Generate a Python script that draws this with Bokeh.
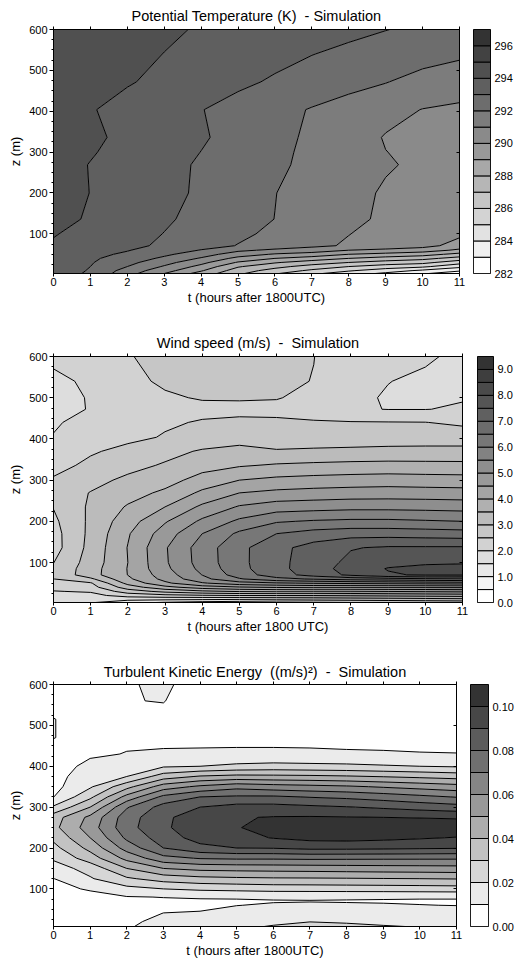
import numpy as np
from bokeh.plotting import figure
from bokeh.layouts import column, row
from bokeh.models import FixedTicker, LinearAxis, PrintfTickFormatter, Range1d
from bokeh.embed import file_html
from bokeh.resources import INLINE

HOURS = list(range(12))

# ---------------- Potential temperature (K) : rows = heights, columns = hours ----------------
Z_THETA = [3, 10, 20, 30, 40, 50, 60, 71, 100, 136, 200, 269, 300, 336, 404, 472, 540, 600]
THETA = [
    [293.5, 292.85, 291.4, 290.0, 288.6, 287.2, 286.1, 285.2, 284.5, 283.8, 283.1, 282.5],
    [293.55, 292.92, 291.6, 290.4, 289.1, 287.5, 286.6, 285.8, 285.1, 284.5, 283.8, 283.1],
    [293.6, 293.0, 292.0, 290.9, 289.7, 288.1, 287.3, 286.6, 286.0, 285.5, 285.2, 284.3],
    [293.65, 293.08, 292.3, 291.35, 290.3, 288.9, 288.1, 287.5, 287.0, 286.6, 286.3, 285.4],
    [293.7, 293.15, 292.6, 291.8, 290.9, 289.7, 289.0, 288.55, 288.0, 287.6, 287.3, 286.6],
    [293.75, 293.25, 292.85, 292.2, 291.45, 290.5, 289.9, 289.6, 289.0, 288.7, 288.4, 287.7],
    [293.8, 293.4, 293.05, 292.55, 291.95, 291.2, 290.8, 290.5, 290.0, 289.8, 289.5, 288.8],
    [293.9, 293.56, 293.22, 292.85, 292.4, 291.96, 291.6, 291.23, 290.88, 290.56, 290.35, 289.6],
    [294.05, 293.72, 293.35, 292.98, 292.6, 292.19, 291.8, 291.41, 291.02, 290.7, 290.45, 290.2],
    [294.2, 293.93, 293.53, 293.12, 292.74, 292.36, 291.99, 291.6, 291.21, 290.85, 290.6, 290.4],
    [294.3, 293.99, 293.62, 293.25, 292.87, 292.45, 292.02, 291.62, 291.27, 290.9, 290.75, 290.6],
    [294.35, 293.97, 293.61, 293.26, 292.9, 292.53, 292.15, 291.8, 291.43, 291.08, 290.85, 290.7],
    [294.4, 294.07, 293.71, 293.35, 292.99, 292.6, 292.2, 291.81, 291.41, 291.01, 290.85, 290.75],
    [294.4, 294.14, 293.83, 293.46, 293.1, 292.69, 292.27, 291.84, 291.38, 290.95, 290.85, 290.8],
    [294.45, 294.06, 293.71, 293.37, 293.03, 292.67, 292.3, 291.94, 291.6, 291.26, 290.98, 290.9],
    [294.5, 294.28, 294.07, 293.79, 293.49, 293.18, 292.89, 292.61, 292.32, 292.04, 291.65, 291.3],
    [294.55, 294.36, 294.18, 293.99, 293.75, 293.5, 293.26, 293.02, 292.81, 292.61, 292.4, 292.2],
    [294.6, 294.44, 294.27, 294.11, 293.94, 293.75, 293.57, 293.39, 293.21, 293.02, 292.84, 292.66],
]
THETA_LEVELS = [282, 283, 284, 285, 286, 287, 288, 289, 290, 291, 292, 293, 294, 295, 296, 297]
THETA_TICKS = [282, 284, 286, 288, 290, 292, 294, 296]

# ---------------- Wind speed (m/s) : one list per hour, values at Z_WIND ----------------
Z_WIND = [3, 10, 20, 30, 40, 50, 60, 70, 85, 100, 136, 170, 200, 235, 269, 300, 336, 370, 404, 440, 472, 500, 540, 600]
WIND_BY_HOUR = [
    [1.8, 1.85, 1.92, 1.98, 2.15, 2.33, 2.49, 2.58, 2.56, 2.49, 2.3, 2.32, 2.4, 2.52, 2.7, 2.55, 2.35, 2.2, 2.02, 1.95, 1.75, 1.75, 1.8, 2.2],
    [1.55, 1.7, 1.85, 2.05, 2.3, 2.45, 2.9, 3.3, 3.28, 3.22, 3.16, 3.12, 3.1, 3.08, 3.02, 2.85, 2.6, 2.45, 2.25, 2.15, 2.04, 2.05, 2.15, 2.25],
    [1.15, 1.6, 2.2, 2.75, 3.25, 3.65, 3.9, 4.01, 4.02, 4.0, 4.02, 3.95, 3.78, 3.55, 3.3, 3.1, 2.85, 2.62, 2.4, 2.3, 2.25, 2.3, 2.4, 2.48],
    [0.95, 1.55, 2.35, 3.15, 3.85, 4.4, 4.65, 4.75, 4.88, 4.93, 4.95, 4.75, 4.45, 4.0, 3.6, 3.3, 3.05, 2.85, 2.53, 2.45, 2.35, 2.45, 2.56, 2.6],
    [0.8, 1.5, 2.45, 3.4, 4.25, 4.95, 5.35, 5.51, 5.65, 5.72, 5.74, 5.5, 5.1, 4.6, 4.1, 3.7, 3.3, 3.05, 2.7, 2.53, 2.4, 2.53, 2.62, 2.65],
    [0.7, 1.45, 2.5, 3.55, 4.45, 5.3, 5.95, 6.25, 6.35, 6.37, 6.37, 6.1, 5.6, 5.05, 4.5, 4.0, 3.45, 3.15, 2.8, 2.56, 2.42, 2.53, 2.62, 2.65],
    [0.6, 1.4, 2.5, 3.6, 4.55, 5.45, 6.35, 6.77, 6.85, 6.86, 6.85, 6.5, 5.95, 5.25, 4.62, 4.12, 3.55, 3.05, 2.68, 2.56, 2.4, 2.52, 2.57, 2.6],
    [0.55, 1.35, 2.5, 3.6, 4.6, 5.55, 6.55, 7.2, 7.28, 7.25, 7.2, 6.7, 6.05, 5.3, 4.68, 4.18, 3.6, 3.08, 2.72, 2.54, 2.3, 2.4, 2.49, 2.505],
    [0.5, 1.3, 2.45, 3.6, 4.6, 5.6, 6.7, 7.6, 7.7, 7.62, 7.47, 6.8, 6.1, 5.35, 4.72, 4.22, 3.64, 3.1, 2.75, 2.53, 2.05, 2.1, 2.22, 2.3],
    [0.45, 1.25, 2.4, 3.55, 4.6, 5.65, 6.8, 7.95, 8.03, 7.85, 7.56, 6.8, 6.1, 5.35, 4.74, 4.25, 3.66, 3.12, 2.78, 2.52, 1.99, 1.96, 2.01, 2.15],
    [0.4, 1.2, 2.35, 3.5, 4.6, 5.7, 6.9, 8.05, 8.15, 7.92, 7.56, 6.76, 6.05, 5.33, 4.72, 4.22, 3.65, 3.12, 2.8, 2.51, 1.99, 1.95, 1.92, 2.06],
    [0.35, 1.15, 2.3, 3.45, 4.6, 5.75, 6.95, 8.05, 8.18, 7.95, 7.56, 6.72, 6.0, 5.3, 4.7, 4.2, 3.64, 3.12, 2.8, 2.4, 2.05, 1.97, 1.85, 1.9],
]
WIND_LEVELS = [0.0, 0.5, 1.0, 1.5, 2.0, 2.5, 3.0, 3.5, 4.0, 4.5, 5.0, 5.5, 6.0, 6.5, 7.0, 7.5, 8.0, 8.5, 9.0, 9.5]
WIND_TICKS = [0, 1, 2, 3, 4, 5, 6, 7, 8, 9]

# ---------------- Turbulent kinetic energy ((m/s)^2) : one list per hour, values at Z_TKE ----------------
Z_TKE = [8, 20, 40, 60, 70, 80, 100, 125, 150, 175, 200, 225, 250, 275, 300, 325, 350, 375, 400, 430, 470, 515, 560, 600]
TKE_BY_HOUR = [
    [.004, .0045, .0052, .006, .0065, .0072, .0083, .0098, .0155, .0214, .027, .0322, .0372, .0355, .0214, .0098, .007, .0065, .006, .007, .0102, .0102, .007, .005],
    [.004, .0045, .0052, .006, .0068, .0081, .0106, .019, .0237, .035, .043, .05, .055, .0525, .04, .0277, .0187, .0155, .0123, .0087, .007, .007, .0075, .008],
    [.0092, .0085, .0075, .0073, .0079, .0095, .0169, .0285, .04, .053, .064, .072, .0765, .0755, .069, .0535, .0367, .02, .0155, .0103, .0085, .0085, .0099, .0097],
    [.013, .012, .0101, .0085, .0088, .0102, .02, .0343, .05, .0667, .08, .085, .088, .0875, .084, .0725, .055, .035, .0188, .0105, .009, .0092, .0101, .0106],
    [.0135, .0125, .0103, .0092, .0093, .0105, .0219, .0371, .0529, .0707, .0871, .094, .0972, .0965, .09, .08, .062, .041, .02, .0107, .0088, .0088, .0085, .0085],
    [.0185, .0145, .0118, .0099, .0094, .0106, .0229, .0382, .0536, .0716, .09, .0965, .0993, .0993, .0935, .0815, .0668, .043, .0223, .0108, .0088, .0085, .0075, .006],
    [.0205, .0185, .0128, .0105, .0097, .0108, .024, .0388, .0541, .0715, .0905, .1005, .1045, .1005, .0935, .0815, .0645, .0425, .0235, .0108, .0088, .0085, .0075, .006],
    [.0215, .0199, .0135, .0108, .0098, .0108, .0242, .039, .0545, .072, .0925, .103, .1065, .1008, .092, .0795, .063, .042, .0228, .0107, .0088, .0085, .0075, .006],
    [.021, .0195, .0132, .0106, .0097, .0107, .0245, .0393, .055, .0718, .0925, .1035, .107, .1005, .0905, .078, .0615, .041, .0222, .0105, .0087, .0083, .0073, .006],
    [.0203, .019, .013, .0104, .0096, .0106, .0248, .0397, .0555, .0716, .092, .1025, .107, .1, .0885, .0755, .059, .0395, .021, .0104, .0086, .0082, .0072, .006],
    [.0198, .0182, .0125, .0101, .0095, .0105, .0252, .04, .0558, .0715, .0913, .101, .107, .0995, .0862, .0725, .0565, .0378, .02, .0102, .0085, .0081, .0071, .006],
    [.0185, .017, .012, .0099, .0094, .0106, .0256, .0405, .0562, .0714, .0907, .0995, .107, .0988, .084, .0695, .054, .036, .019, .0101, .0085, .008, .007, .006],
]
TKE_LEVELS = [0.0, 0.01, 0.02, 0.03, 0.04, 0.05, 0.06, 0.07, 0.08, 0.09, 0.10, 0.11]
TKE_TICKS = [0.0, 0.02, 0.04, 0.06, 0.08, 0.10]

FONT = "Liberation Sans"
HEIGHT_TICKS = [100, 200, 300, 400, 500, 600]
HEIGHT_MINOR = list(range(25, 600, 25))
NB = "\u00a0"


def gray_ramp(n):
    out = []
    for i in range(n):
        g = int(round(255 - (255 - 51) * i / (n - 1)))
        out.append("#%02x%02x%02x" % (g, g, g))
    return out


def panel(title, xlabel, heights, field, levels, y_start,
          fig_h, top, frame_h, frame_right, title_gap):
    bottom = fig_h - top - frame_h
    p = figure(width=frame_right + 14, height=fig_h, x_range=Range1d(0, 11), y_range=Range1d(y_start, 600),
               output_backend="svg", toolbar_location=None,
               min_border_left=53, min_border_right=14,
               min_border_top=top, min_border_bottom=bottom, title=title)
    p.title.text_font = FONT
    p.title.text_font_size = "14.5px"
    p.title.text_font_style = "normal"
    p.title.text_color = "black"
    p.title.align = "center"
    p.title.standoff = title_gap
    p.grid.visible = False
    p.outline_line_color = "black"
    p.outline_line_width = 1
    p.background_fill_color = "white"

    p.contour(x=HOURS, y=heights, z=np.array(field), levels=levels,
              fill_color=gray_ramp(len(levels) - 1), line_color="black", line_width=1)

    xa = p.xaxis[0]
    xa.ticker = FixedTicker(ticks=HOURS, minor_ticks=[])
    xa.axis_label = xlabel
    xa.major_tick_out = 3
    xa.major_tick_in = 0
    xa.major_label_standoff = 1
    xa.axis_label_standoff = 1
    ya = p.yaxis[0]
    ya.ticker = FixedTicker(ticks=HEIGHT_TICKS, minor_ticks=HEIGHT_MINOR)
    ya.axis_label = "z (m)"
    ya.major_tick_out = 4
    ya.major_tick_in = 0
    ya.minor_tick_out = 2
    ya.minor_tick_in = 0
    ya.major_label_standoff = 2
    ya.axis_label_standoff = 3
    for ax in (xa, ya):
        ax.major_label_text_font = FONT
        ax.major_label_text_font_size = "11px"
        ax.major_label_text_color = "black"
        ax.axis_label_text_font = FONT
        ax.axis_label_text_font_size = "13px"
        ax.axis_label_text_font_style = "normal"
        ax.axis_label_text_color = "black"
        ax.axis_line_color = "black"
        ax.major_tick_line_color = "black"
        ax.minor_tick_line_color = "black"

    top_ax = LinearAxis(ticker=FixedTicker(ticks=HOURS, minor_ticks=[]), major_tick_out=3, major_tick_in=0,
                        major_label_text_font_size="1px", major_label_text_color=None, major_label_standoff=0)
    right_ax = LinearAxis(ticker=FixedTicker(ticks=HEIGHT_TICKS, minor_ticks=[]), major_tick_out=0, major_tick_in=3,
                          major_label_text_font_size="1px", major_label_text_color=None, major_label_standoff=0)
    p.add_layout(top_ax, "above")
    p.add_layout(right_ax, "right")
    return p


def colorbar(levels, ticks, fmt, fig_h, top, frame_h, left_pad, bar_w, width):
    bottom = fig_h - top - frame_h
    c = figure(width=width, height=fig_h, x_range=Range1d(0, 1), y_range=Range1d(levels[0], levels[-1]),
               output_backend="svg", toolbar_location=None, x_axis_location=None, y_axis_location="right",
               min_border_left=left_pad, min_border_right=width - left_pad - bar_w,
               min_border_top=top, min_border_bottom=bottom)
    c.quad(left=0, right=1, bottom=levels[:-1], top=levels[1:],
           fill_color=gray_ramp(len(levels) - 1), line_color="black", line_width=1)
    c.grid.visible = False
    c.outline_line_color = "black"
    c.background_fill_color = "white"
    ax = c.yaxis[0]
    ax.ticker = FixedTicker(ticks=ticks, minor_ticks=[])
    ax.formatter = PrintfTickFormatter(format=fmt)
    ax.major_tick_out = 0
    ax.major_tick_in = 0
    ax.axis_line_color = None
    ax.major_label_standoff = 4
    ax.major_label_text_font = FONT
    ax.major_label_text_font_size = "11px"
    ax.major_label_text_color = "black"
    return c


# panel 1: frame x 53..459, y 29..273
p1 = panel("Potential Temperature (K)" + NB + " - Simulation", "t (hours after 1800UTC)",
           Z_THETA, THETA, THETA_LEVELS, 3, 316, 29, 244, 459, 6)
c1 = colorbar(THETA_LEVELS, THETA_TICKS, "%d", 316, 29, 244, 0, 17, 516 - 473)
# panel 2: frame x 53..462, y 356..602
p2 = panel("Wind speed (m/s)" + NB + " -" + NB + " Simulation", "t (hours after 1800 UTC)",
           Z_WIND, np.array(WIND_BY_HOUR).T, WIND_LEVELS, 3, 330, 40, 246, 462, 5)
c2 = colorbar(WIND_LEVELS, WIND_TICKS, "%.1f", 330, 40, 246, 1, 16, 516 - 476)
# panel 3: frame x 53..456, y 684..926
p3 = panel("Turbulent Kinetic Energy" + NB + " ((m/s)\u00b2)" + NB + " -" + NB + " Simulation",
           "t (hours after 1800UTC)",
           Z_TKE, np.array(TKE_BY_HOUR).T, TKE_LEVELS, 8, 315, 38, 242, 456, 3)
c3 = colorbar(TKE_LEVELS, TKE_TICKS, "%.2f", 315, 38, 242, 0, 18, 516 - 470)

layout = column(row(p1, c1, spacing=0), row(p2, c2, spacing=0), row(p3, c3, spacing=0), spacing=0)
open("out.html", "w").write(file_html(layout, INLINE))
